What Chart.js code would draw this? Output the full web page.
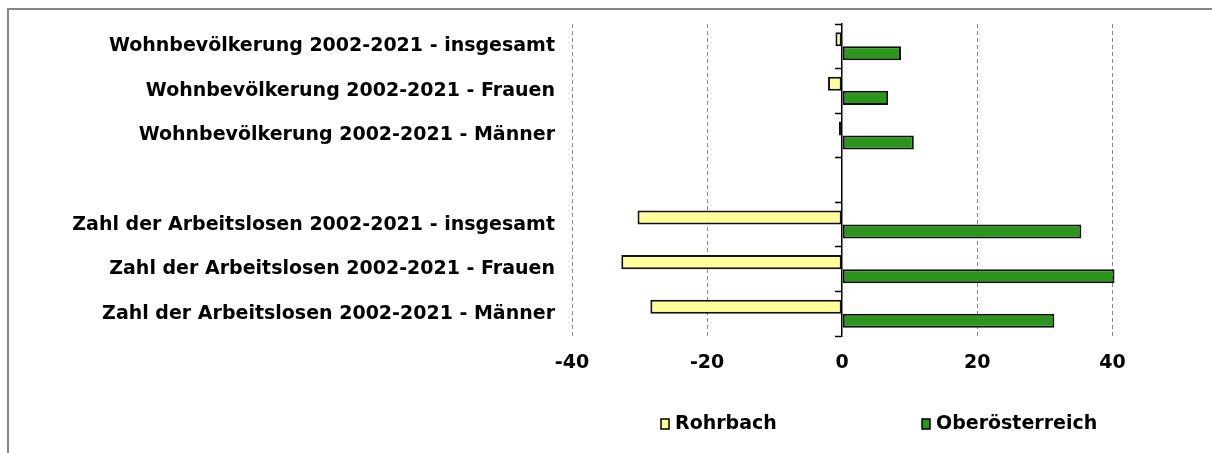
<!DOCTYPE html>
<html><head><meta charset="utf-8">
<script src="https://cdn.jsdelivr.net/npm/chart.js@4"></script>
<style>html,body{margin:0;padding:0;background:#fff;overflow:hidden}canvas{display:block}</style>
</head><body>
<canvas id="c" width="1212" height="453"></canvas>
<script>
const categories = [
  'Wohnbevölkerung 2002-2021 - insgesamt',
  'Wohnbevölkerung 2002-2021 - Frauen',
  'Wohnbevölkerung 2002-2021 - Männer',
  '',
  'Zahl der Arbeitslosen 2002-2021 - insgesamt',
  'Zahl der Arbeitslosen 2002-2021 - Frauen',
  'Zahl der Arbeitslosen 2002-2021 - Männer'
];
const seriesNames = ['Rohrbach', 'Oberösterreich'];
const rohrbach = [-1.0, -2.1, -0.5, null, -30.3, -32.7, -28.4];
const oberoesterreich = [8.7, 6.8, 10.6, null, 35.4, 40.3, 31.4];
const xTicks = [-40, -20, 0, 20, 40];
const xMin = -40, xMax = 50;

const FONT = "'DejaVu Sans', Verdana, sans-serif";
const FS = 19;
Chart.defaults.font.family = FONT;
Chart.defaults.color = '#000';

const frameAndLegend = {
  id: 'frameAndLegend',
  beforeDraw(chart) {
    const ctx = chart.ctx;
    ctx.save();
    ctx.fillStyle = '#ffffff';
    ctx.fillRect(0, 0, chart.width, chart.height);
    ctx.strokeStyle = '#858585';
    ctx.lineWidth = 2;
    ctx.beginPath();
    ctx.moveTo(8, chart.height);
    ctx.lineTo(8, 9);
    ctx.lineTo(chart.width, 9);
    ctx.stroke();
    ctx.restore();
  },
  afterDraw(chart) {
    const ctx = chart.ctx;
    const xs = [660, 921];
    ctx.save();
    ctx.font = "bold " + FS + "px " + FONT;
    ctx.textBaseline = 'middle';
    ctx.textAlign = 'left';
    chart.data.datasets.forEach((ds, i) => {
      const x = xs[i];
      ctx.fillStyle = ds.backgroundColor;
      ctx.fillRect(x + 1, 419, 8, 10);
      ctx.strokeStyle = '#000';
      ctx.lineWidth = 1.5;
      ctx.strokeRect(x + 1, 419, 8, 10);
      ctx.fillStyle = '#000';
      ctx.fillText(ds.label, x + 15, 424);
    });
    ctx.restore();
  }
};

new Chart(document.getElementById('c'), {
  type: 'bar',
  data: {
    labels: categories,
    datasets: [
      { label: seriesNames[0], data: rohrbach, backgroundColor: '#FFFF99', borderColor: '#111', borderWidth: 2, borderSkipped: false },
      { label: seriesNames[1], data: oberoesterreich, backgroundColor: '#2C961C', borderColor: '#111', borderWidth: 2, borderSkipped: false }
    ]
  },
  options: {
    indexAxis: 'y',
    responsive: false,
    animation: false,
    categoryPercentage: 0.63,
    barPercentage: 1.0,
    layout: { padding: { top: 24, right: 32, left: 0, bottom: 0 } },
    plugins: { legend: { display: false }, tooltip: { enabled: false } },
    scales: {
      x: {
        type: 'linear',
        min: xMin, max: xMax,
        afterBuildTicks: (s) => { s.ticks = xTicks.map(v => ({ value: v })); },
        afterFit: (s) => { s.height = 117; s.paddingLeft = 0; s.paddingRight = 0; },
        ticks: { font: { size: FS, weight: 'bold' }, color: '#000', padding: 16 },
        grid: {
          color: (c) => (c.tick && c.tick.value === 0) ? 'rgba(0,0,0,0)' : '#8a8a8a',
          drawTicks: false,
          lineWidth: 1
        },
        border: { display: false, dash: [4, 3] }
      },
      y: {
        type: 'category',
        position: 'left',
        afterFit: (s) => { s.width = 572; s.paddingTop = 0; s.paddingBottom = 0; },
        ticks: { font: { size: FS, weight: 'bold' }, color: '#000', padding: 17, autoSkip: false },
        grid: { display: false, drawTicks: false },
        border: { display: false }
      },
      y2: {
        type: 'category',
        position: { x: 0 },
        offset: true,
        afterFit: (s) => { s.paddingTop = 0; s.paddingBottom = 0; },
        ticks: { display: false },
        grid: { offset: true, drawOnChartArea: false, drawTicks: true, tickLength: 6, tickColor: '#000', tickWidth: 1.5 },
        border: { display: true, color: '#000', width: 1.5 }
      }
    }
  },
  plugins: [frameAndLegend]
});
</script>
</body></html>
